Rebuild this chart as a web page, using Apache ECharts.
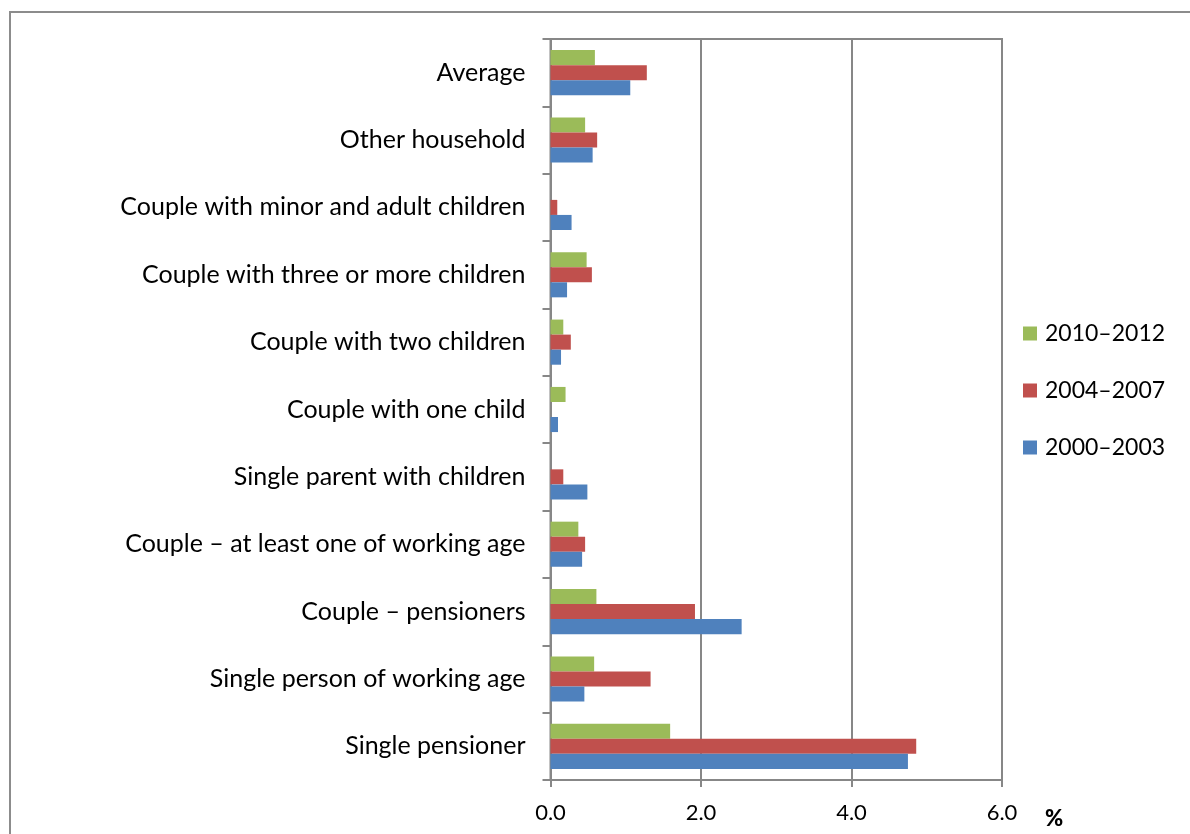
<!DOCTYPE html>
<html>
<head>
<meta charset="utf-8">
<style>
  html, body { margin: 0; padding: 0; background: #fff; }
  #chart { width: 1190px; height: 834px; }
</style>
<script src="https://cdn.jsdelivr.net/npm/echarts@6/dist/echarts.min.js"></script>
</head>
<body>
<div id="chart"></div>
<script>
// Household types, listed bottom to top on the category axis
const categories = [
  'Single pensioner',
  'Single person of working age',
  'Couple – pensioners',
  'Couple – at least one of working age',
  'Single parent with children',
  'Couple with one child',
  'Couple with two children',
  'Couple with three or more children',
  'Couple with minor and adult children',
  'Other household',
  'Average'
];

// Shares (%) per period, same order as categories
const v2000_2003 = [4.75, 0.45, 2.54, 0.42, 0.49, 0.10, 0.14, 0.22, 0.28, 0.56, 1.06];
const v2004_2007 = [4.86, 1.33, 1.92, 0.46, 0.17, 0.00, 0.27, 0.55, 0.09, 0.62, 1.28];
const v2010_2012 = [1.59, 0.58, 0.61, 0.37, 0.00, 0.20, 0.17, 0.48, 0.00, 0.46, 0.59];

const seriesNames = ['2010–2012', '2004–2007', '2000–2003'];
const xTicks = ['0.0', '2.0', '4.0', '6.0'];

const FONT = 'Lato, "Open Sans", sans-serif';
const GRID_GRAY = '#878787';

const chart = echarts.init(document.getElementById('chart'), null, { renderer: 'canvas' });

const barStyle = (color) => ({
  type: 'bar',
  barGap: '0%',
  barCategoryGap: '33%',
  itemStyle: { color: color },
  emphasis: { disabled: true },
  animation: false
});

chart.setOption({
  backgroundColor: '#ffffff',
  animation: false,
  textStyle: { fontFamily: FONT },
  grid: {
    left: 550.5,
    right: 188,
    top: 39,
    bottom: 54,
    show: true,
    borderColor: GRID_GRAY,
    borderWidth: 2,
    backgroundColor: 'transparent'
  },
  legend: {
    orient: 'vertical',
    left: 1023,
    top: 322,
    padding: 0,
    itemGap: 34,
    itemWidth: 14,
    itemHeight: 14,
    icon: 'rect',
    data: seriesNames,
    textStyle: { fontFamily: FONT, fontSize: 23, color: '#000', padding: [0, 0, 0, 3] }
  },
  xAxis: {
    type: 'value',
    min: 0,
    max: 6,
    interval: 2,
    axisLine: { show: true, lineStyle: { color: GRID_GRAY, width: 2 } },
    axisTick: { show: true, length: 7, lineStyle: { color: GRID_GRAY, width: 2 } },
    splitLine: { show: true, lineStyle: { color: GRID_GRAY, width: 2 } },
    axisLabel: {
      margin: 22,
      fontFamily: FONT,
      fontSize: 22,
      color: '#000',
      formatter: (v) => xTicks[Math.round(v / 2)]
    }
  },
  yAxis: {
    type: 'category',
    data: categories,
    axisLine: { show: true, lineStyle: { color: GRID_GRAY, width: 2 } },
    axisTick: { show: true, length: 8, lineStyle: { color: GRID_GRAY, width: 2 } },
    axisLabel: { margin: 25, fontFamily: FONT, fontSize: 25, color: '#000' },
    splitLine: { show: false }
  },
  series: [
    Object.assign({ name: seriesNames[0], data: v2010_2012 }, barStyle('#9BBB59')),
    Object.assign({ name: seriesNames[1], data: v2004_2007 }, barStyle('#C0504D')),
    Object.assign({ name: seriesNames[2], data: v2000_2003 }, barStyle('#4F81BD'))
  ],
  graphic: [
    {
      type: 'rect',
      silent: true,
      shape: { x: 10, y: 12, width: 1200, height: 900 },
      style: { fill: 'none', stroke: '#8c8c8c', lineWidth: 2 }
    },
    {
      type: 'text',
      silent: true,
      left: 1045,
      top: 808,
      style: { text: '%', font: '900 22px ' + FONT, fill: '#000' }
    }
  ]
});
</script>
</body>
</html>
